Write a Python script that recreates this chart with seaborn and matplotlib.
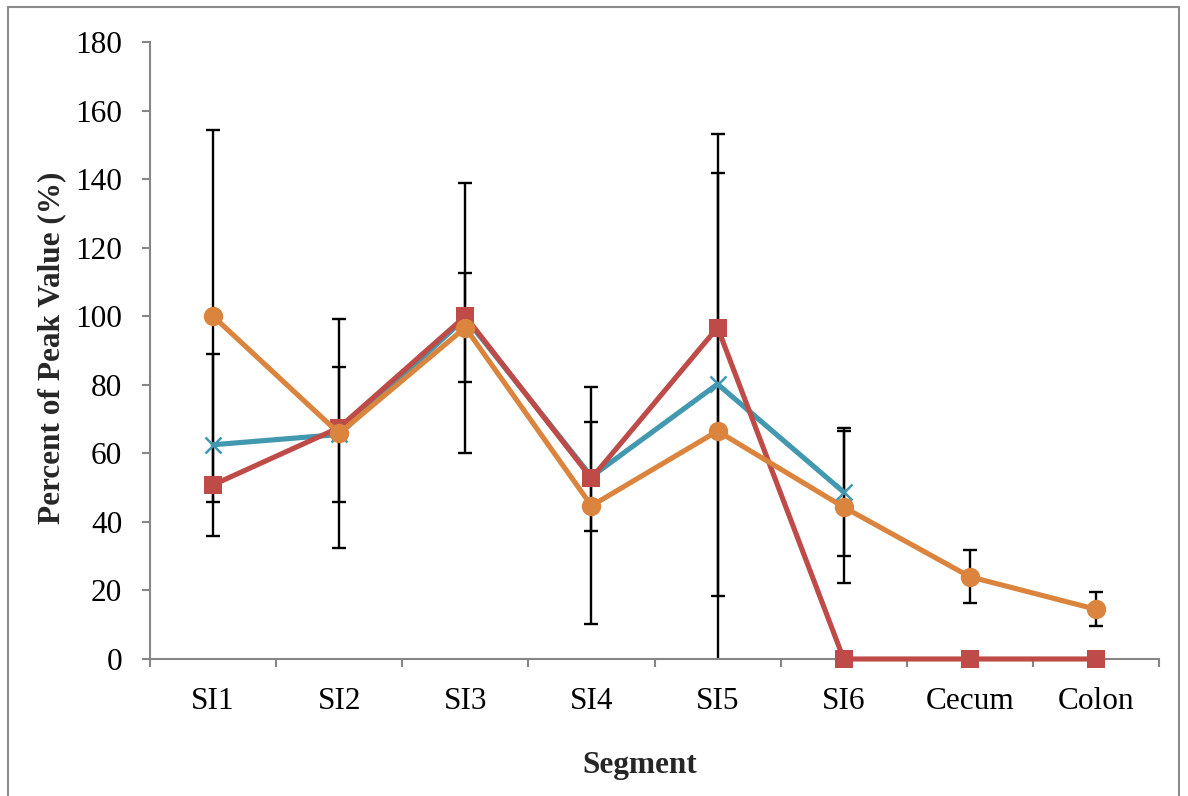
import numpy as np
import pandas as pd
import seaborn as sns
import matplotlib
matplotlib.use("Agg")
import matplotlib.pyplot as plt
from matplotlib.patches import Rectangle
from matplotlib.ticker import FixedLocator, NullFormatter, FixedFormatter

categories = ["SI1", "SI2", "SI3", "SI4", "SI5", "SI6", "Cecum", "Colon"]

teal_vals = [62.5, 65.5, 99.5, 53.2, 80.2, 48.7]
teal_err = [26.5, 19.7, 39.3, 15.8, 61.7, 18.7]

red_vals = [50.8, 67.5, 100.0, 52.7, 96.7, 0.0, 0.0, 0.0]

orange_vals = [100.0, 65.8, 96.7, 44.7, 66.5, 44.3, 24.0, 14.5]
orange_err = [54.2, 33.4, 15.9, 34.6, 86.8, 22.2, 7.7, 5.0]

teal_color = "#4198AF"
red_color = "#BE4B48"
orange_color = "#DB843D"

sns.set_style("white")
plt.rcParams["font.family"] = ["Liberation Serif", "DejaVu Serif"]

fig = plt.figure(figsize=(11.88, 7.96), dpi=100)
ax = fig.add_axes([150 / 1188, 1 - 659 / 796, (1159 - 150) / 1188, (659 - 42) / 796])

x_teal = np.arange(len(teal_vals))
x_red = np.arange(len(red_vals))
x_orange = np.arange(len(orange_vals))

# error bars (below markers)
ax.errorbar(x_teal, teal_vals, yerr=teal_err, fmt="none", ecolor="black",
            elinewidth=1.7, capsize=5, capthick=1.7, zorder=1)
ax.errorbar(x_orange, orange_vals, yerr=orange_err, fmt="none", ecolor="black",
            elinewidth=1.7, capsize=5, capthick=1.7, zorder=1)

df_teal = pd.DataFrame({"x": x_teal, "y": teal_vals})
df_red = pd.DataFrame({"x": x_red, "y": red_vals})
df_orange = pd.DataFrame({"x": x_orange, "y": orange_vals})

sns.lineplot(data=df_teal, x="x", y="y", ax=ax, color=teal_color, linewidth=3.7,
             marker="x", markersize=11, markeredgewidth=1.8, markeredgecolor=teal_color,
             zorder=3, clip_on=False)
sns.lineplot(data=df_red, x="x", y="y", ax=ax, color=red_color, linewidth=3.7,
             marker="s", markersize=12.5, markeredgewidth=0, markerfacecolor=red_color,
             zorder=4, clip_on=False)
sns.lineplot(data=df_orange, x="x", y="y", ax=ax, color=orange_color, linewidth=3.7,
             marker="o", markersize=14, markeredgewidth=0, markerfacecolor=orange_color,
             zorder=5, clip_on=False)

ax.set_xlim(-0.5, len(categories) - 0.5)
ax.set_ylim(0, 180)
ax.set_yticks(np.arange(0, 181, 20))

ax.xaxis.set_major_locator(FixedLocator(np.arange(-0.5, len(categories), 1.0)))
ax.xaxis.set_major_formatter(NullFormatter())
ax.xaxis.set_minor_locator(FixedLocator(np.arange(len(categories))))
ax.xaxis.set_minor_formatter(FixedFormatter(categories))

spine_color = "#868686"
for s in ["top", "right"]:
    ax.spines[s].set_visible(False)
for s in ["left", "bottom"]:
    ax.spines[s].set_color(spine_color)
    ax.spines[s].set_linewidth(1.5)

ax.tick_params(axis="y", which="major", direction="out", length=6, width=1.5,
               color=spine_color, labelsize=22.5, labelcolor="black", pad=14, left=True)
ax.tick_params(axis="x", which="major", direction="out", length=6, width=1.5,
               color=spine_color, bottom=True)
ax.tick_params(axis="x", which="minor", length=0, labelsize=22.5,
               labelcolor="black", pad=20, bottom=True)

ax.set_xlabel("")
ax.set_ylabel("")
fig.text(640 / 1188, 1 - 766 / 796, "Segment", fontsize=22.5, fontweight="bold",
         ha="center", va="center")
fig.text(52 / 1188, 1 - 348 / 796, "Percent of Peak Value (%)", fontsize=22.5,
         fontweight="bold", ha="center", va="center", rotation=90)

ax.grid(False)

fig.patches.append(Rectangle((8 / 1188, -0.05), (1179 - 8) / 1188, 1.05 - 7 / 796,
                             transform=fig.transFigure, fill=False,
                             edgecolor="#8C8C8C", linewidth=1.5))

fig.savefig("out.png", dpi=100, facecolor="white")
